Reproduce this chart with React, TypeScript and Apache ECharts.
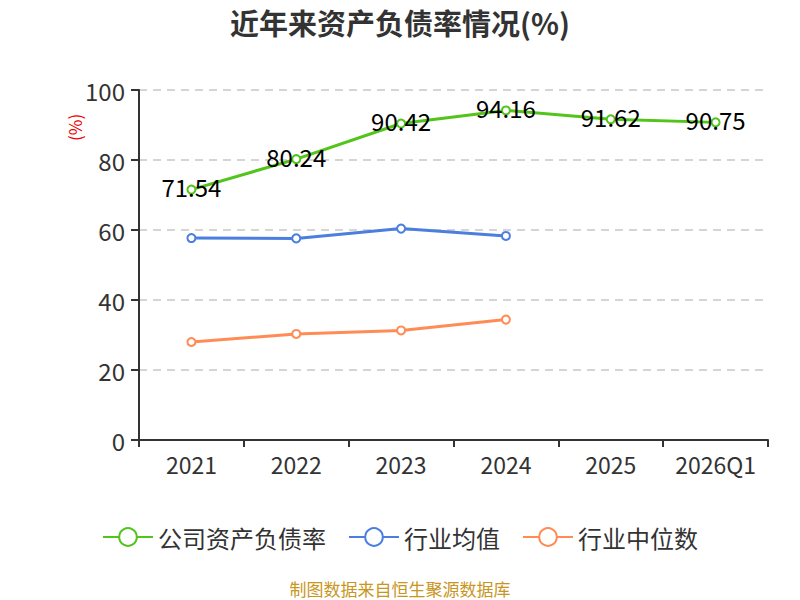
import { useEffect, useRef } from 'react';
import * as echarts from 'echarts';

const categories = ['2021', '2022', '2023', '2024', '2025', '2026Q1'];
const companyRatio = [71.54, 80.24, 90.42, 94.16, 91.62, 90.75];
const industryAvg = [57.7, 57.6, 60.4, 58.3, null, null];
const industryMedian = [28.0, 30.3, 31.3, 34.4, null, null];

const FONT = "'Noto Sans CJK SC', 'Noto Sans', sans-serif";

export default function App() {
  const ref = useRef<HTMLDivElement>(null);

  useEffect(() => {
    if (!ref.current) return;
    document.body.style.margin = '0';
    const chart = echarts.init(ref.current, undefined, { renderer: 'svg' });
    chart.setOption({
      animation: false,
      backgroundColor: '#fff',
      textStyle: { fontFamily: FONT },
      title: {
        text: '近年来资产负债率情况(%)',
        left: 'center',
        top: 2,
        textStyle: { fontSize: 29, fontWeight: 'bold', color: '#333', fontFamily: FONT },
      },
      graphic: [
        {
          type: 'text',
          x: 66,
          y: 141,
          rotation: Math.PI / 2,
          style: { text: '(%)', fill: '#e00', fontSize: 17, fontFamily: FONT },
        },
        {
          type: 'text',
          x: 400,
          y: 588,
          style: {
            text: '制图数据来自恒生聚源数据库',
            fill: '#c8961e',
            fontSize: 17,
            fontFamily: FONT,
            align: 'center',
            verticalAlign: 'middle',
          },
        },
      ],
      legend: {
        top: 520,
        left: 'center',
        itemWidth: 50,
        itemHeight: 22,
        itemGap: 22,
        textStyle: { fontSize: 24, color: '#333', fontFamily: FONT },
        data: ['公司资产负债率', '行业均值', '行业中位数'],
      },
      grid: { left: 139, right: 32, top: 90, bottom: 160 },
      xAxis: {
        type: 'category',
        data: categories,
        boundaryGap: true,
        axisLine: { lineStyle: { color: '#333', width: 2 } },
        axisTick: { show: true, length: 7, lineStyle: { color: '#333', width: 2 } },
        axisLabel: { fontSize: 23, color: '#333', margin: 12, interval: 0 },
      },
      yAxis: {
        type: 'value',
        min: 0,
        max: 100,
        interval: 20,
        axisLine: { show: true, lineStyle: { color: '#333', width: 2 } },
        axisTick: { show: true, length: 8, lineStyle: { color: '#333', width: 2 } },
        axisLabel: { fontSize: 24, color: '#333', margin: 14 },
        splitLine: { lineStyle: { color: '#c8c8c8', type: [8, 6], width: 1.5 } },
      },
      series: [
        {
          name: '公司资产负债率',
          type: 'line',
          data: companyRatio,
          symbol: 'emptyCircle',
          symbolSize: 8,
          color: '#52c41a',
          lineStyle: { width: 3 },
          itemStyle: { borderWidth: 2 },
          label: {
            show: true,
            position: 'inside',
            offset: [0, -3],
            fontSize: 24,
            color: '#000',
            fontFamily: FONT,
          },
          z: 3,
        },
        {
          name: '行业均值',
          type: 'line',
          data: industryAvg,
          symbol: 'emptyCircle',
          symbolSize: 8,
          color: '#4a7fe0',
          lineStyle: { width: 3 },
          itemStyle: { borderWidth: 2 },
        },
        {
          name: '行业中位数',
          type: 'line',
          data: industryMedian,
          symbol: 'emptyCircle',
          symbolSize: 8,
          color: '#ff8c55',
          lineStyle: { width: 3 },
          itemStyle: { borderWidth: 2 },
        },
      ],
    });
    return () => chart.dispose();
  }, []);

  return <div ref={ref} style={{ width: 800, height: 600 }} />;
}
